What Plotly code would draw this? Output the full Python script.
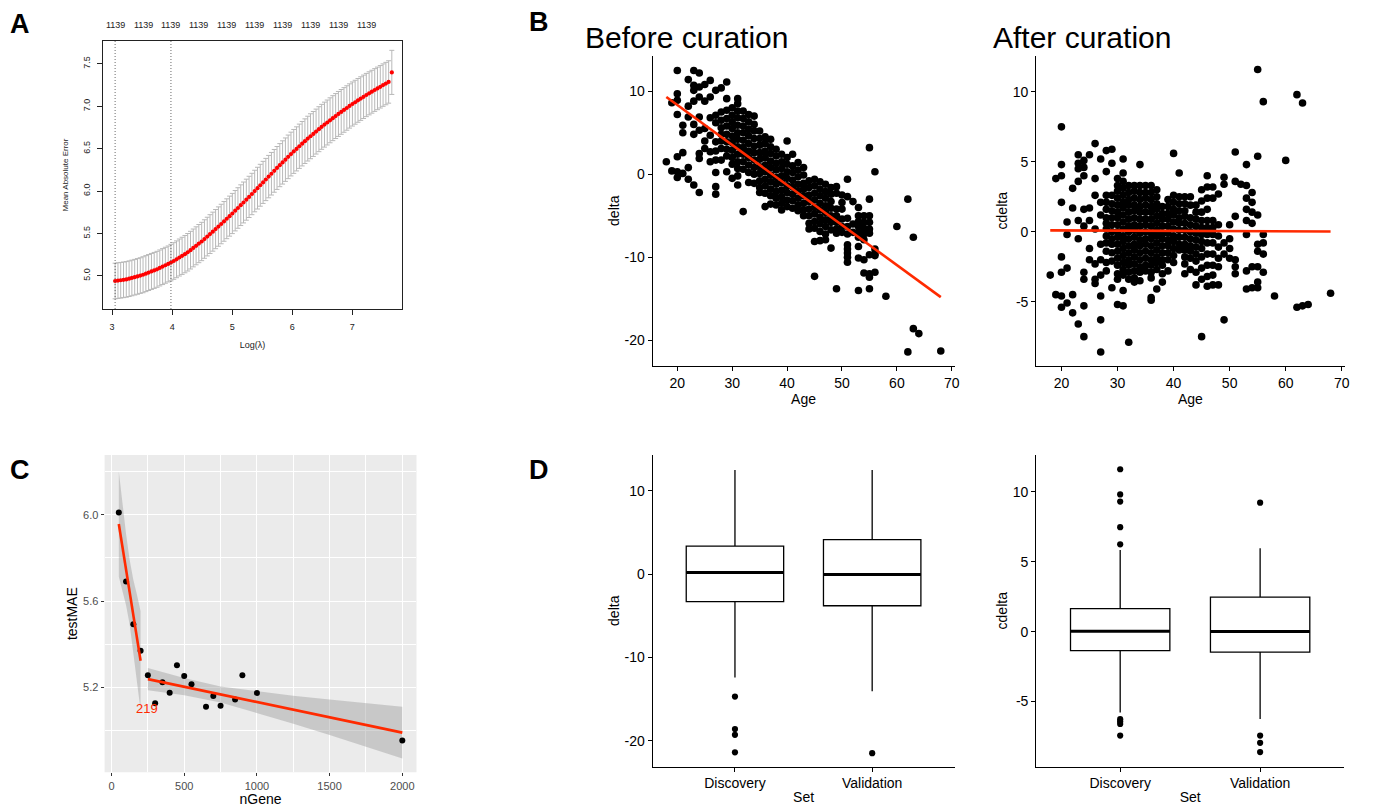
import plotly.graph_objects as go

FONT = "Liberation Sans, Arial, Helvetica, sans-serif"
W, H = 1374, 809

# ---------------- Panel A : cross-validation curve ----------------
loglam = [3.050, 3.097, 3.143, 3.190, 3.236, 3.283, 3.329, 3.376, 3.422, 3.469,
          3.515, 3.562, 3.608, 3.655, 3.701, 3.748, 3.794, 3.841, 3.887, 3.934,
          3.980, 4.027, 4.073, 4.120, 4.166, 4.213, 4.259, 4.306, 4.352, 4.399,
          4.445, 4.492, 4.538, 4.585, 4.631, 4.678, 4.724, 4.771, 4.817, 4.864,
          4.910, 4.957, 5.003, 5.050, 5.096, 5.143, 5.189, 5.236, 5.282, 5.329,
          5.375, 5.422, 5.468, 5.515, 5.561, 5.608, 5.654, 5.701, 5.747, 5.794,
          5.840, 5.887, 5.933, 5.980, 6.026, 6.073, 6.119, 6.166, 6.212, 6.259,
          6.305, 6.352, 6.398, 6.445, 6.491, 6.538, 6.584, 6.631, 6.677, 6.724,
          6.770, 6.817, 6.863, 6.910, 6.956, 7.003, 7.049, 7.096, 7.142, 7.189,
          7.235, 7.282, 7.328, 7.375, 7.421, 7.468, 7.514, 7.561, 7.607, 7.660]
mae = [4.940, 4.945, 4.949, 4.954, 4.959, 4.967, 4.976, 4.985, 4.994, 5.004,
       5.014, 5.027, 5.040, 5.053, 5.065, 5.078, 5.094, 5.110, 5.126, 5.141,
       5.157, 5.176, 5.196, 5.217, 5.237, 5.257, 5.279, 5.304, 5.330, 5.355,
       5.381, 5.406, 5.435, 5.464, 5.493, 5.522, 5.552, 5.582, 5.612, 5.643,
       5.674, 5.705, 5.736, 5.769, 5.801, 5.834, 5.866, 5.899, 5.932, 5.966,
       6.001, 6.035, 6.069, 6.103, 6.137, 6.171, 6.205, 6.239, 6.273, 6.306,
       6.338, 6.371, 6.404, 6.437, 6.468, 6.498, 6.529, 6.559, 6.589, 6.619,
       6.647, 6.674, 6.702, 6.730, 6.758, 6.784, 6.809, 6.835, 6.860, 6.885,
       6.910, 6.934, 6.957, 6.980, 7.004, 7.027, 7.048, 7.070, 7.091, 7.112,
       7.133, 7.153, 7.172, 7.192, 7.211, 7.230, 7.250, 7.268, 7.287, 7.400]
mae_se = [0.210, 0.210, 0.210, 0.210, 0.210, 0.210, 0.210, 0.210, 0.210, 0.210,
          0.212, 0.212, 0.212, 0.212, 0.212, 0.212, 0.212, 0.212, 0.212, 0.212,
          0.215, 0.216, 0.217, 0.218, 0.219, 0.220, 0.221, 0.222, 0.223, 0.224,
          0.225, 0.226, 0.227, 0.228, 0.229, 0.230, 0.231, 0.232, 0.233, 0.234,
          0.235, 0.236, 0.237, 0.238, 0.239, 0.240, 0.241, 0.242, 0.243, 0.244,
          0.245, 0.246, 0.247, 0.248, 0.249, 0.250, 0.251, 0.252, 0.253, 0.254,
          0.255, 0.256, 0.257, 0.258, 0.259, 0.260, 0.261, 0.262, 0.263, 0.264,
          0.265, 0.265, 0.265, 0.265, 0.265, 0.265, 0.265, 0.265, 0.265, 0.265,
          0.265, 0.264, 0.263, 0.262, 0.261, 0.260, 0.259, 0.258, 0.257, 0.256,
          0.255, 0.254, 0.253, 0.252, 0.251, 0.250, 0.250, 0.250, 0.250, 0.260]
top_label_pos = [3.05, 3.515, 3.98, 4.445, 4.91, 5.375, 5.84, 6.305, 6.77, 7.235]
top_labels = ["1139"] * 10
lambda_lines = [3.05, 3.98]
a_xticks = [3, 4, 5, 6, 7]
a_yticks = [5.0, 5.5, 6.0, 6.5, 7.0, 7.5]

# ---------------- Panel B : delta vs Age ----------------
ages_before = [18, 19, 20, 21, 22, 23, 24, 25, 26, 27, 28, 29, 30, 31, 32, 33, 34, 35,
               36, 37, 38, 39, 40, 41, 42, 43, 44, 45, 46, 47, 48, 49, 50, 51, 52,
               53, 54, 55, 56, 58, 60, 62, 63, 64, 68]
delta_before = [
    [1.5],
    [8.6, 0.4],
    [12.5, 9.7, 8.9, 7.2, 2.1, 0.3, -0.4],
    [5.9, 5.0, 2.6, 0.1],
    [11.4, 8.2, 6.9, 0.8, -0.6],
    [12.5, 10.7, 10.1, 8.8, 6.0, 4.8, -1.3],
    [12.2, 10.5, 9.3, 6.9, 5.3, 2.5, 1.9, -2.2],
    [10.8, 8.8, 5.5, 4.0, 3.1],
    [11.3, 9.3, 6.8, 4.7, 2.7, 1.5],
    [10.1, 7.1, 6.2, 3.9, 2.8, 1.7, 0.2, -1.5, -2.4],
    [10.4, 7.5, 6.5, 5.6, 4.8, 4.0, 3.1, 1.7],
    [11.1, 9.1, 7.7, 6.7, 5.8, 4.8, 3.9, 3.0, 2.2, 0.3],
    [8.0, 7.1, 6.3, 5.5, 4.6, 3.8, 2.9, 2.0, 1.2, -0.5],
    [9.1, 8.5, 7.6, 6.8, 5.9, 5.0, 4.2, 3.3, 2.4, 1.5, 0.7, -0.2, -1.3],
    [7.6, 6.7, 5.8, 5.0, 4.1, 3.2, 2.4, 1.5, 0.6, -4.5],
    [7.2, 6.3, 5.4, 4.6, 3.7, 2.8, 2.0, 1.1, 0.2, -1.0],
    [7.0, 6.0, 5.2, 4.3, 3.4, 2.6, 1.7, 0.8, 0.0, -1.1],
    [5.2, 4.3, 3.5, 2.6, 1.8, 0.9, 0.1, -0.8, -1.6, -2.2],
    [4.5, 3.7, 2.8, 2.0, 1.1, 0.3, -0.6, -1.4, -2.3, -3.9],
    [4.2, 3.3, 2.5, 1.6, 0.8, -0.1, -0.9, -1.8, -2.6, -3.6],
    [3.0, 2.2, 1.3, 0.5, -0.4, -1.2, -2.1, -2.9, -3.7],
    [2.4, 1.5, 0.7, -0.2, -1.0, -1.9, -2.7, -3.5, -4.3],
    [4.0, 2.0, 1.2, 0.3, -0.5, -1.4, -2.2, -3.1, -3.9],
    [2.4, 1.0, 0.2, -0.7, -1.5, -2.4, -3.2, -4.1],
    [1.4, 0.5, -0.3, -1.2, -2.0, -2.9, -3.7, -4.4],
    [0.8, -0.1, -1.1, -1.8, -2.6, -3.5, -4.3, -5.0],
    [-0.8, -1.6, -2.5, -3.3, -4.2, -5.0, -5.9, -6.6],
    [-0.6, -1.4, -2.3, -3.1, -4.0, -4.8, -5.7, -6.5, -8.1, -12.3],
    [-0.9, -1.8, -2.6, -3.5, -4.3, -5.2, -6.0, -6.9, -8.0],
    [-1.2, -2.1, -2.9, -3.8, -4.6, -5.5, -6.3, -7.2, -7.9],
    [-1.6, -2.4, -3.3, -4.1, -5.0, -5.8, -6.7, -8.9],
    [-1.5, -2.3, -4.2, -5.0, -5.8, -6.6, -7.1, -13.8],
    [-2.5, -3.4, -4.2, -5.4, -6.3, -7.0],
    [-0.6, -2.7, -5.3, -6.3, -7.2, -8.5, -9.0, -9.5, -10.0, -10.6],
    [-3.3, -6.0, -7.0],
    [-4.0, -5.0, -5.7, -6.3, -7.0, -7.6, -8.7, -10.1, -14.0],
    [-5.0, -5.8, -6.5, -7.2, -7.9, -10.3, -11.9],
    [3.2, -3.0, -5.0, -5.8, -6.6, -7.1, -9.7, -12.0, -12.4, -13.8],
    [0.3, -9.0, -9.6, -9.8, -11.8],
    [-14.7],
    [-6.3],
    [-3.0, -21.4],
    [-7.6, -18.6],
    [-19.2],
    [-21.3],
]
fit_age = [18, 68]
fit_before = [9.3, -14.8]

ages_after = [18, 19, 20, 21, 22, 23, 24, 25, 26, 27, 28, 29, 30, 31, 32, 33, 34, 35,
              36, 37, 38, 39, 40, 41, 42, 43, 44, 45, 46, 47, 48, 49, 50, 51, 52,
              53, 54, 55, 56, 58, 60, 62, 63, 64, 68]
cdelta_after = [
    [-3.1],
    [3.8, -4.5],
    [7.5, 4.8, 4.0, 2.1, -1.8, -2.9, -4.6, -5.4],
    [0.7, -0.2, -2.6, -5.1],
    [3.1, 1.7, -4.5, -5.8],
    [5.5, 4.9, 4.5, 3.6, 0.8, -0.5, -6.6],
    [5.1, 4.6, 4.0, 1.6, 0.4, -2.9, -3.4, -5.3, -7.5],
    [5.5, 1.7, 0.8, -1.2, -2.0],
    [6.3, 3.8, 2.6, 0.2, -2.3, -3.4, -3.7],
    [5.2, 2.1, 1.2, -0.9, -2.0, -3.1, -4.6, -6.3, -8.6],
    [5.8, 4.3, 2.6, 2.1, 1.6, 1.0, 0.6, 0.2, -0.3, -0.8, -1.4, -2.2, -2.8],
    [5.9, 4.9, 2.6, 2.0, 1.5, 1.0, 0.5, 0.0, -0.5, -0.9, -1.5, -2.1, -4.0],
    [3.8, 3.3, 2.9, 2.4, 1.9, 1.4, 1.0, 0.5, 0.0, -0.4, -0.9, -1.4, -1.9, -2.4, -3.0, -3.4, -5.2],
    [5.2, 4.2, 3.6, 3.1, 2.6, 2.1, 1.7, 1.2, 0.7, 0.2, -0.3, -0.7, -1.2, -1.7, -2.2, -2.7, -3.1, -4.2, -5.3],
    [3.3, 2.8, 2.3, 1.9, 1.4, 0.9, 0.4, 0.0, -0.5, -1.0, -1.5, -2.0, -2.4, -2.9, -3.4, -7.9],
    [3.3, 2.9, 2.4, 1.9, 1.5, 1.0, 0.5, 0.1, -0.4, -0.9, -1.3, -1.8, -2.3, -2.8, -3.3, -3.6],
    [4.8, 3.3, 2.8, 2.3, 1.8, 1.4, 0.9, 0.4, -0.1, -0.6, -1.0, -1.5, -2.0, -2.5, -2.9, -3.5],
    [3.3, 2.8, 2.4, 1.9, 1.4, 0.9, 0.5, 0.0, -0.5, -0.9, -1.4, -1.9, -2.4, -2.8],
    [3.3, 2.8, 2.3, 1.8, 1.4, 0.9, 0.4, -0.1, -0.5, -1.0, -1.5, -2.0, -2.4, -2.9, -3.3, -4.7, -4.9],
    [3.0, 2.5, 2.0, 1.6, 1.1, 0.6, 0.1, -0.3, -0.8, -1.3, -1.8, -2.2, -2.7, -4.1],
    [1.8, 1.3, 0.9, 0.4, -0.1, -0.5, -1.0, -1.5, -2.0, -2.4, -3.0, -3.6],
    [2.3, 1.8, 1.3, 0.9, 0.4, -0.1, -0.6, -1.0, -1.5, -2.0, -2.8],
    [5.6, 2.6, 2.1, 1.6, 1.2, 0.7, 0.2, -0.3, -0.7, -1.2, -1.7, -2.2],
    [4.2, 2.5, 2.0, 1.5, 1.0, 0.6, 0.1, -0.4, -0.9, -1.3],
    [2.5, 2.0, 1.5, 1.1, 0.6, 0.1, -0.4, -0.9, -1.3, -1.8, -2.3, -3.0],
    [2.5, 1.9, 1.0, 0.5, 0.0, -0.5, -1.0, -1.4, -1.9, -2.7],
    [1.9, 1.4, 0.9, 0.4, -0.1, -0.6, -1.1, -1.6, -2.1, -2.9, -3.8],
    [3.0, 2.2, 1.4, 0.8, 0.3, -0.2, -0.7, -1.2, -1.8, -2.6, -3.4, -7.5],
    [4.0, 3.2, 2.4, 1.6, 0.8, 0.3, -0.2, -0.8, -1.6, -2.4, -3.2, -3.9],
    [3.2, 2.4, 0.8, 0.3, -0.2, -0.8, -1.6, -2.4, -3.1, -3.8],
    [2.7, 0.5, -0.3, -1.1, -1.9, -2.5, -3.8],
    [3.9, 3.4, -0.8, -1.6, -6.3],
    [0.5, -0.5, -1.2, -1.9],
    [5.7, 3.6, 1.1, -2.0, -2.5, -3.0],
    [3.4],
    [4.8, 3.3, 2.4, 1.6, 0.8, -0.2, -2.8, -4.1],
    [2.8, 2.1, 1.4, 0.6, -2.5, -4.0],
    [11.6, 5.4, 1.2, -0.9, -1.4, -2.5, -3.6, -4.0],
    [9.3, -0.2, -0.8, -1.6, -2.9],
    [-4.6],
    [5.1],
    [9.8, -5.4],
    [9.2, -5.3],
    [-5.2],
    [-4.4],
]
fit_after = [0.10, 0.02]
b_xticks = [20, 30, 40, 50, 60, 70]

# ---------------- Panel C : testMAE vs nGene ----------------
ngene = [50, 100, 150, 200, 250, 300, 350, 400, 450, 500, 550, 650, 700, 750, 850, 900, 1000, 2000]
test_mae = [6.010, 5.691, 5.492, 5.370, 5.256, 5.126, 5.223, 5.175, 5.302, 5.252, 5.214,
            5.110, 5.160, 5.115, 5.144, 5.256, 5.174, 4.953]
seg1_x = [50, 75, 100, 125, 150, 175, 200]
seg1_fit = [5.957, 5.851, 5.746, 5.640, 5.534, 5.429, 5.323]
seg1_lo = [5.712, 5.651, 5.581, 5.490, 5.369, 5.229, 5.093]
seg1_hi = [6.202, 6.051, 5.911, 5.790, 5.699, 5.629, 5.553]
seg2_x = [250, 500, 750, 1000, 1250, 1500, 1750, 2000]
seg2_fit = [5.238, 5.203, 5.167, 5.132, 5.096, 5.061, 5.025, 4.990]
seg2_lo = [5.186, 5.163, 5.130, 5.082, 5.031, 4.979, 4.925, 4.870]
seg2_hi = [5.290, 5.243, 5.204, 5.182, 5.161, 5.143, 5.125, 5.110]
break_label = "219"
break_label_pos = (247, 5.103)

# ---------------- Panel D : boxplots ----------------
sets = ["Discovery", "Validation"]
set_pos = [1, 2]
d_q1 = [-3.31, -3.80]
d_med = [0.18, -0.06]
d_q3 = [3.35, 4.15]
d_lo = [-12.4, -14.07]
d_hi = [12.5, 12.5]
d_out_set = [1, 1, 1, 1, 2]
d_out_val = [-14.7, -18.6, -19.3, -21.4, -21.5]
c_q1 = [-1.36, -1.47]
c_med = [0.03, 0.0]
c_q3 = [1.64, 2.46]
c_lo = [-5.79, -6.24]
c_hi = [5.84, 5.96]
c_out_set = [1, 1, 1, 1, 1, 1, 1, 1, 1, 2, 2, 2, 2]
c_out_val = [11.6, 9.8, 9.29, 7.46, 6.24, -6.26, -6.43, -6.6, -7.43, 9.21, -7.43, -7.95, -8.61]

# =====================================================================
RED_LINE = "#ff2a00"
BOX_W = 0.71

def px_x(p):
    return p / W

def px_y(p):
    return 1 - p / H

def flatten(ages, cols):
    xs, ys = [], []
    for a, col in zip(ages, cols):
        for v in col:
            xs.append(a)
            ys.append(v)
    return xs, ys

fig = go.Figure()

# ---- Panel A traces
fig.add_trace(go.Scatter(
    x=loglam, y=mae, mode="markers",
    marker=dict(color="#ff0000", size=4.2),
    error_y=dict(type="data", array=mae_se, color="#b8b8b8", thickness=1, width=2.5),
    xaxis="x", yaxis="y", hoverinfo="skip"))

# ---- Panel B traces
bx, by = flatten(ages_before, delta_before)
fig.add_trace(go.Scatter(x=bx, y=by, mode="markers",
                         marker=dict(color="black", size=7.6, line=dict(width=0)),
                         xaxis="x2", yaxis="y2"))
fig.add_trace(go.Scatter(x=fit_age, y=fit_before, mode="lines",
                         line=dict(color=RED_LINE, width=2.6), xaxis="x2", yaxis="y2"))
ax_, ay_ = flatten(ages_after, cdelta_after)
fig.add_trace(go.Scatter(x=ax_, y=ay_, mode="markers",
                         marker=dict(color="black", size=7.6, line=dict(width=0)),
                         xaxis="x3", yaxis="y3"))
fig.add_trace(go.Scatter(x=fit_age, y=fit_after, mode="lines",
                         line=dict(color=RED_LINE, width=2.6), xaxis="x3", yaxis="y3"))

# ---- Panel C traces
RIB = "rgba(153,153,153,0.42)"
for sx, lo, hi in [(seg1_x, seg1_lo, seg1_hi), (seg2_x, seg2_lo, seg2_hi)]:
    fig.add_trace(go.Scatter(x=sx + sx[::-1], y=hi + lo[::-1], mode="lines",
                             fill="toself", fillcolor=RIB, line=dict(width=0),
                             xaxis="x4", yaxis="y4", hoverinfo="skip"))
fig.add_trace(go.Scatter(x=ngene, y=test_mae, mode="markers",
                         marker=dict(color="black", size=6), xaxis="x4", yaxis="y4"))
for sx, sf in [(seg1_x, seg1_fit), (seg2_x, seg2_fit)]:
    fig.add_trace(go.Scatter(x=sx, y=sf, mode="lines",
                             line=dict(color=RED_LINE, width=2.6), xaxis="x4", yaxis="y4"))

# ---- Panel D traces
def add_boxes(q1, med, q3, lo, hi, out_set, out_val, xa, ya):
    fig.add_trace(go.Box(x=set_pos, q1=q1, median=med, q3=q3, lowerfence=lo, upperfence=hi,
                         width=BOX_W, fillcolor="white", whiskerwidth=0,
                         line=dict(color="black", width=1.3), boxpoints=False,
                         xaxis=xa, yaxis=ya))
    for p, m in zip(set_pos, med):
        fig.add_trace(go.Scatter(x=[p - BOX_W / 2, p + BOX_W / 2], y=[m, m], mode="lines",
                                 line=dict(color="black", width=3), xaxis=xa, yaxis=ya))
    fig.add_trace(go.Scatter(x=out_set, y=out_val, mode="markers",
                             marker=dict(color="black", size=6.2), xaxis=xa, yaxis=ya))

add_boxes(d_q1, d_med, d_q3, d_lo, d_hi, d_out_set, d_out_val, "x5", "y5")
add_boxes(c_q1, c_med, c_q3, c_lo, c_hi, c_out_set, c_out_val, "x6", "y6")

# =====================================================================
tick_font_b = dict(family=FONT, size=14, color="black")
title_font_b = dict(family=FONT, size=14, color="black")

def classic_axis(domain, rng, **kw):
    d = dict(domain=domain, range=rng, showline=True, linecolor="black", linewidth=1.1,
             ticks="outside", ticklen=4, tickwidth=1.1, tickcolor="black",
             showgrid=False, zeroline=False, tickfont=tick_font_b,
             title_font=title_font_b)
    d.update(kw)
    return d

BL = [px_x(655), px_x(958)]
BR = [px_x(1040), px_x(1349.5)]
TOP_Y = [px_y(366), px_y(55.5)]
BOT_Y = [px_y(766.5), px_y(455)]

delta_ticks = [-20, -10, 0, 10]
cdelta_ticks = [-5, 0, 5, 10]
A_FONT = dict(family=FONT, size=9, color="#222")

layout = dict(
    width=W, height=H, margin=dict(l=0, r=0, t=0, b=0),
    paper_bgcolor="white", plot_bgcolor="rgba(0,0,0,0)", showlegend=False,
    font=dict(family=FONT, color="black"),
    # Panel A
    xaxis=dict(domain=[px_x(103.5), px_x(403.5)], range=[2.85, 7.83], anchor="y",
               showline=True, mirror=True, linecolor="#222", linewidth=1.2,
               ticks="outside", ticklen=5, tickcolor="#222", tickvals=a_xticks,
               ticklabelstandoff=4,
               tickfont=A_FONT, showgrid=False, zeroline=False,
               title=dict(text="Log(\u03bb)", font=A_FONT, standoff=10)),
    yaxis=dict(domain=[px_y(309), px_y(41)], range=[4.61, 7.77], anchor="x",
               showline=True, mirror=True, linecolor="#222", linewidth=1.2,
               ticks="outside", ticklen=5, tickcolor="#222", tickvals=a_yticks,
               ticktext=["%.1f" % v for v in a_yticks], tickangle=-90,
               ticklabelstandoff=3,
               tickfont=A_FONT, showgrid=False, zeroline=False,
               title=dict(text="Mean Absolute Error", font=dict(family=FONT, size=8, color="#222"),
                          standoff=12)),
    # Panel B left
    xaxis2=classic_axis(BL, [15.5, 70.5], anchor="y2", tickvals=b_xticks,
                        title=dict(text="Age", standoff=4)),
    yaxis2=classic_axis(TOP_Y, [-23.1, 14.3], anchor="x2", tickvals=delta_ticks,
                        ticktext=[str(v) for v in delta_ticks],
                        title=dict(text="delta", standoff=1)),
    # Panel B right
    xaxis3=classic_axis(BR, [15.5, 70.5], anchor="y3", tickvals=b_xticks,
                        title=dict(text="Age", standoff=4)),
    yaxis3=classic_axis(TOP_Y, [-9.6, 12.6], anchor="x3", tickvals=cdelta_ticks,
                        ticktext=[str(v) for v in cdelta_ticks],
                        title=dict(text="cdelta", standoff=1)),
    # Panel C
    xaxis4=dict(domain=[px_x(105), px_x(418)], range=[-47.5, 2097.5], anchor="y4",
                showline=False, zeroline=False, ticks="outside", ticklen=3, tickcolor="#333",
                tick0=0, dtick=500, showgrid=True, gridcolor="white", gridwidth=1.1,
                minor=dict(dtick=250, tick0=0, showgrid=True, gridcolor="white", gridwidth=0.5),
                tickfont=dict(family=FONT, size=11, color="#4d4d4d"),
                title=dict(text="nGene", font=dict(family=FONT, size=14, color="black"), standoff=1)),
    yaxis4=dict(domain=[px_y(772.3), px_y(455)], range=[4.806, 6.277], anchor="x4",
                showline=False, zeroline=False, ticks="outside", ticklen=3, tickcolor="#333",
                tick0=5.2, dtick=0.4, tickformat=".1f", showgrid=True, gridcolor="white", gridwidth=1.1,
                minor=dict(dtick=0.2, tick0=5.0, showgrid=True, gridcolor="white", gridwidth=0.5),
                tickfont=dict(family=FONT, size=11, color="#4d4d4d"),
                title=dict(text="testMAE", font=dict(family=FONT, size=14, color="black"), standoff=2)),
    # Panel D left
    xaxis5=classic_axis(BL, [0.4, 2.6], anchor="y5", tickvals=set_pos, ticktext=sets,
                        ticklabelstandoff=0, title=dict(text="Set", standoff=1)),
    yaxis5=classic_axis(BOT_Y, [-23.1, 14.3], anchor="x5", tickvals=delta_ticks,
                        ticktext=[str(v) for v in delta_ticks],
                        title=dict(text="delta", standoff=1)),
    # Panel D right
    xaxis6=classic_axis([px_x(1040), px_x(1349)], [0.4, 2.6], anchor="y6", tickvals=set_pos,
                        ticktext=sets, ticklabelstandoff=0, title=dict(text="Set", standoff=1)),
    yaxis6=classic_axis(BOT_Y, [-9.64, 12.62], anchor="x6", tickvals=cdelta_ticks,
                        ticktext=[str(v) for v in cdelta_ticks],
                        title=dict(text="cdelta", standoff=1)),
)
fig.update_layout(**layout)

shapes = [dict(type="rect", xref="x4 domain", yref="y4 domain", x0=0, x1=1, y0=0, y1=1,
               fillcolor="#ebebeb", line=dict(width=0), layer="below")]
for lx in lambda_lines:
    shapes.append(dict(type="line", xref="x", yref="y domain", x0=lx, x1=lx, y0=0, y1=1,
                       line=dict(color="#444", width=0.8, dash="1px,2px")))
fig.update_layout(shapes=shapes)

ann = []
for pos, lab in zip(top_label_pos, top_labels):
    ann.append(dict(x=pos, xref="x", y=px_y(25), yref="paper", text=lab, showarrow=False,
                    font=A_FONT, xanchor="center", yanchor="middle"))
for letter, (lx, ly) in {"A": (20, 24), "B": (541, 22), "C": (20, 470), "D": (541, 470)}.items():
    ann.append(dict(x=px_x(lx), y=px_y(ly), xref="paper", yref="paper", text="<b>%s</b>" % letter,
                    showarrow=False, font=dict(family=FONT, size=27, color="black"),
                    xanchor="center", yanchor="middle"))
ann.append(dict(x=px_x(585), y=px_y(37), xref="paper", yref="paper", text="Before curation",
                showarrow=False, font=dict(family=FONT, size=30, color="black"),
                xanchor="left", yanchor="middle"))
ann.append(dict(x=px_x(995), y=px_y(37), xref="paper", yref="paper", text="After curation",
                showarrow=False, font=dict(family=FONT, size=30, color="black"),
                xanchor="left", yanchor="middle"))
ann.append(dict(x=break_label_pos[0], y=break_label_pos[1], xref="x4", yref="y4", text=break_label,
                showarrow=False, font=dict(family=FONT, size=13, color=RED_LINE),
                xanchor="center", yanchor="middle"))
fig.update_layout(annotations=ann)

fig.write_html("out.html", config={"displayModeBar": False},
               post_script="document.body.style.margin='0px';document.body.style.overflow='hidden';")
